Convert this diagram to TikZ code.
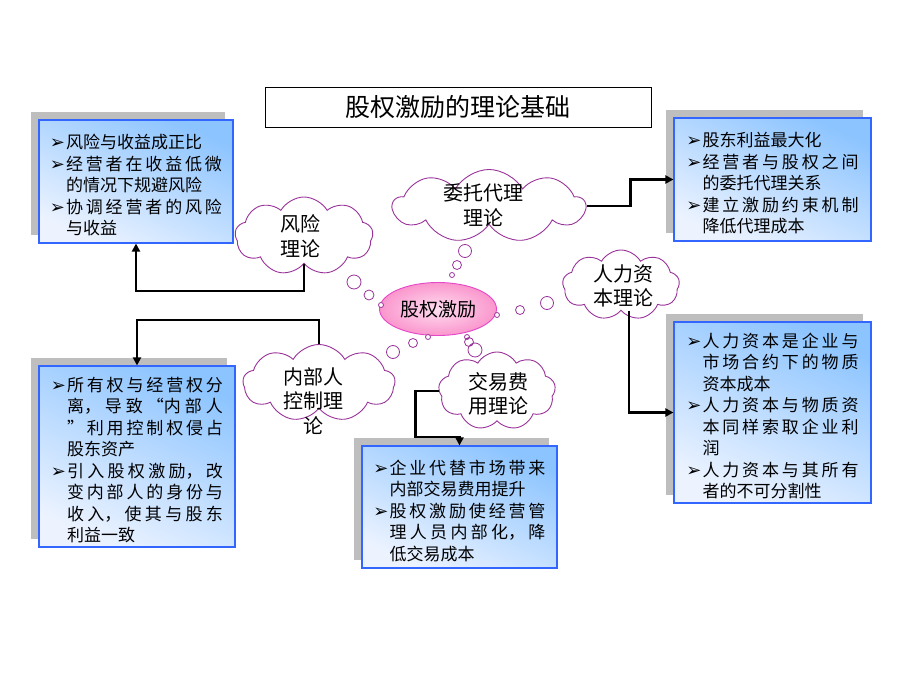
\documentclass[tikz,border=0pt]{standalone}
\usepackage{fontspec}
\setmainfont{Noto Sans CJK SC}
\newfontfamily\dejavu{DejaVu Sans}
\usepackage{tikz}
\usetikzlibrary{arrows.meta,shapes.geometric,shapes.symbols,shadows}

\XeTeXlinebreaklocale "zh"
\XeTeXlinebreakskip=0pt plus 5pt

\definecolor{boxblue}{RGB}{51,102,255}
\definecolor{boxtop}{RGB}{140,196,255}
\definecolor{boxbottom}{RGB}{236,243,255}
\definecolor{shadowgray}{RGB}{190,190,190}
\definecolor{cloudpurple}{RGB}{153,51,153}
\definecolor{corepink}{RGB}{250,150,205}
\definecolor{corelight}{RGB}{255,222,240}
\definecolor{coreline}{RGB}{230,70,200}

\newcommand\bul{{\dejavu\fontsize{18}{18}\selectfont ➢}\hspace{1pt}}
\newcommand\itm{\par\leftskip=16pt\noindent\llap{\bul}}

\begin{document}
\begin{tikzpicture}[x=1pt, y=-1pt,
  theorybox/.style={rectangle, draw=boxblue, line width=1.1pt,
    top color=boxtop, bottom color=boxbottom, shading angle=-25,
    drop shadow={shadow xshift=-8pt, shadow yshift=8pt, fill=shadowgray, opacity=1},
    text width=172pt, align=justify, inner sep=0pt,
    font=\fontsize{17}{21.5}\selectfont},
  puff/.style={cloud, cloud puffs=9, cloud puff arc=120, draw=cloudpurple,
    line width=0.9pt, fill=white, inner sep=0pt},
  puffname/.style={align=center, font=\fontsize{20}{24.5}\selectfont},
  bubble/.style={draw=cloudpurple, line width=0.8pt, fill=white},
  conn/.style={line width=2.4pt, -{Triangle[length=8pt,width=8pt]}}]

 \path[fill=white] (0,0) rectangle (920,690);

 \node[draw, line width=0.8pt, minimum width=386pt, minimum height=40pt,
       font=\fontsize{25}{25}\selectfont] (title) at (458,107) {股权激励的理论基础};

 % text boxes
 \node[theorybox, minimum width=194pt, minimum height=123pt] (riskbox) at (136,181.5) {%
 \itm 风险与收益成正比
 \itm 经营者在收益低微\linebreak 的情况下规避风险
 \itm 协调经营者的风险\linebreak 与收益\par};

 \node[theorybox, minimum width=197pt, minimum height=123pt] (agencybox) at (772.5,179.5) {%
 \itm 股东利益最大化
 \itm 经营者与股权之间\linebreak 的委托代理关系
 \itm 建立激励约束机制\linebreak 降低代理成本\par};

 \node[theorybox, minimum width=196pt, minimum height=181pt] (insiderbox) at (137,456.5) {%
 \itm 所有权与经营权分\linebreak 离，导致“内部人\linebreak ”利用控制权侵占\linebreak 股东资产
 \itm 引入股权激励，改\linebreak 变内部人的身份与\linebreak 收入，使其与股东\linebreak 利益一致\par};

 \node[theorybox, minimum width=197pt, minimum height=181pt] (humanbox) at (772.5,412.5) {%
 \itm 人力资本是企业与\linebreak 市场合约下的物质\linebreak 资本成本
 \itm 人力资本与物质资\linebreak 本同样索取企业利\linebreak 润
 \itm 人力资本与其所有\linebreak 者的不可分割性\par};

 \node[theorybox, minimum width=195pt, minimum height=122pt] (transbox) at (459.5,507) {%
 \itm 企业代替市场带来\linebreak 内部交易费用提升
 \itm 股权激励使经营管\linebreak 理人员内部化，降\linebreak 低交易成本\par};

 % clouds
 \node[puff, aspect=1.8, minimum width=138pt, minimum height=78pt] (riskcloud) at (304,236) {};
 \node[puff, aspect=2.6, minimum width=192pt, minimum height=73pt] (agencycloud) at (489,206) {};
 \node[puff, aspect=1.7, minimum width=117pt, minimum height=70pt] (humancloud) at (621,285) {};
 \node[puff, aspect=2.0, minimum width=152pt, minimum height=77pt] (insidercloud) at (319,383) {};
 \node[puff, aspect=1.5, minimum width=117pt, minimum height=78pt] (transcloud) at (497,391) {};

 \node[puffname] (riskname) at (300,236) {风险\\理论};
 \node[puffname] (agencyname) at (483,205) {委托代理\\理论};
 \node[puffname] (humanname) at (623,286) {人力资\\本理论};
 \node[puffname] (insidername) at (313,401) {内部人\\控制理\\论};
 \node[puffname] (transname) at (498,394) {交易费\\用理论};

 % centre
 \node[ellipse, draw=coreline, line width=0.9pt, inner color=corelight, outer color=corepink,
       minimum width=117pt, minimum height=53pt, font=\fontsize{19}{19}\selectfont] (core) at (438,309) {股权激励};

 % thought bubbles
 \draw[bubble] (354,282) circle (7pt) (369,295) circle (5pt) (381,305) circle (2.5pt);
 \draw[bubble] (465,251) circle (6.5pt) (457,265) circle (4.5pt) (452,275) circle (2.5pt);
 \draw[bubble] (547,303) circle (6.5pt) (520,310) circle (4.5pt) (497,315) circle (2.5pt);
 \draw[bubble] (393,352) circle (6.5pt) (413,343) circle (4.5pt) (428,337) circle (2.5pt);
 \draw[bubble] (475,350) circle (7pt) (469,342) circle (4.5pt) (467,337) circle (2.5pt);

 % connectors
 \draw[conn] (riskcloud.south) -- ++(0,27) -| (riskbox.south);
 \draw[conn] (insidercloud.north) -- ++(0,-24) -| (insiderbox.north);
 \draw[conn] (agencycloud.east) -- ++(44,0) |- (agencybox.west);
 \draw[conn] ([xshift=8pt]humancloud.south) |- (humanbox.west);
 \draw[conn] (transcloud.west) -- ++(-23,0) -- ++(0,46) -| (transbox.north);

\end{tikzpicture}
\end{document}
